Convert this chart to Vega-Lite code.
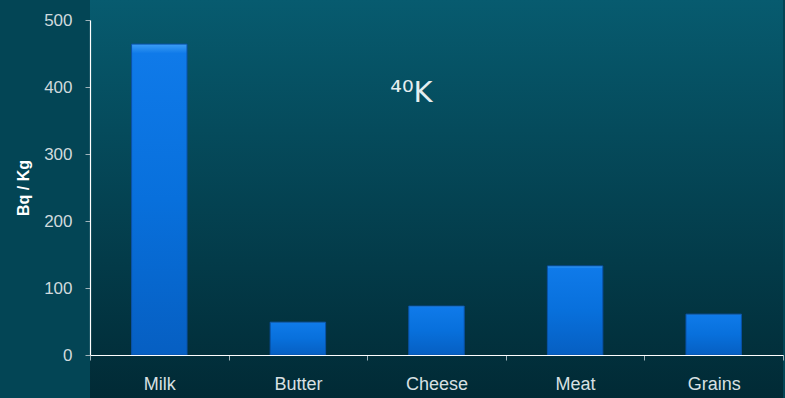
{
  "$schema": "https://vega.github.io/schema/vega-lite/v6.json",
  "width": 693,
  "height": 335,
  "autosize": "none",
  "padding": {"left": 90, "top": 20, "right": 2, "bottom": 43},
  "background": "#034555",
  "config": {"view": {"stroke": null}, "font": "Liberation Sans"},
  "title": {
    "text": "⁴⁰K",
    "font": "DejaVu Sans",
    "fontSize": 29,
    "fontWeight": "normal",
    "color": "#e6eef0",
    "anchor": "middle",
    "offset": 0,
    "baseline": "alphabetic",
    "dx": -25,
    "dy": 131
  },
  "data": {
    "values": [
      {"food": "Milk", "value": 464},
      {"food": "Butter", "value": 49},
      {"food": "Cheese", "value": 73},
      {"food": "Meat", "value": 133},
      {"food": "Grains", "value": 61}
    ]
  },
  "layer": [
    {
      "data": {"values": [{}]},
      "mark": {
        "type": "rect",
        "color": {
          "gradient": "linear",
          "x1": 0, "y1": 0, "x2": 0, "y2": 1,
          "stops": [
            {"offset": 0, "color": "#075b6f"},
            {"offset": 1, "color": "#012a35"}
          ]
        }
      },
      "encoding": {
        "y": {"datum": 530, "type": "quantitative"},
        "y2": {"datum": -65}
      }
    },
    {
      "mark": {
        "type": "bar",
        "width": {"band": 0.4},
        "color": {
          "gradient": "linear",
          "x1": 0, "y1": 0, "x2": 0, "y2": 1,
          "stops": [
            {"offset": 0, "color": "#3c9ef5"},
            {"offset": 0.03, "color": "#0f7ae9"},
            {"offset": 0.5, "color": "#0870dc"},
            {"offset": 1, "color": "#065fc2"}
          ]
        },
        "stroke": "#0a52a8",
        "strokeWidth": 1
      },
      "encoding": {
        "x": {
          "field": "food",
          "type": "nominal",
          "sort": null,
          "scale": {"paddingInner": 0, "paddingOuter": 0},
          "axis": {
            "zindex": 1,
            "title": null,
            "labelAngle": 0,
            "tickBand": "extent",
            "domainColor": "#ffffff",
            "domainWidth": 1.2,
            "tickColor": "#9fb3ba",
            "tickSize": 5,
            "labelPadding": 15,
            "labelFontSize": 18,
            "labelColor": "#d8e0e3",
            "labelFont": "Liberation Sans"
          }
        },
        "y": {
          "field": "value",
          "type": "quantitative",
          "scale": {"domain": [0, 500], "nice": false},
          "axis": {
            "zindex": 1,
            "title": "Bq / Kg",
            "titleFont": "Liberation Sans",
            "titleFontSize": 16,
            "titleFontWeight": "bold",
            "titleColor": "#ffffff",
            "titlePadding": 12,
            "values": [0, 100, 200, 300, 400, 500],
            "grid": false,
            "domainColor": "#ffffff",
            "domainWidth": 1.2,
            "tickColor": "#9fb3ba",
            "tickSize": 5,
            "labelPadding": 13,
            "labelFontSize": 17,
            "labelColor": "#d0dadd",
            "labelFont": "Liberation Sans"
          }
        }
      }
    }
  ]
}
